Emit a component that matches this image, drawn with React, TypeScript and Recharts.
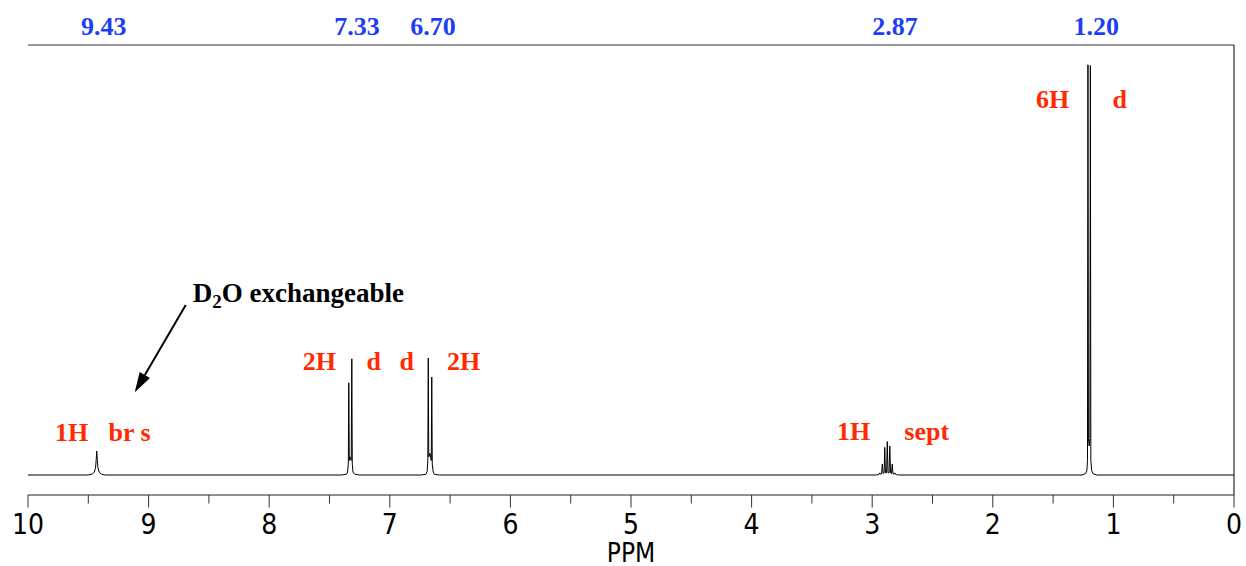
import React from 'react';
import {
  LineChart,
  Line,
  XAxis,
  YAxis,
  ReferenceLine,
  ReferenceDot,
} from 'recharts';

// spectrum trace (ppm, relative intensity)
const PPM = [
  10.0, 9.5, 9.47, 9.45, 9.44, 9.435, 9.43, 9.425, 9.42, 9.41, 9.39, 9.36,
  7.4, 7.36, 7.35, 7.344, 7.34, 7.336, 7.33, 7.32, 7.315, 7.311, 7.305, 7.29, 7.25,
  6.74, 6.7, 6.69, 6.685, 6.681, 6.677, 6.667, 6.656, 6.652, 6.648, 6.64, 6.63, 6.59,
  2.97, 2.945, 2.943, 2.937, 2.931, 2.922, 2.916, 2.91, 2.901, 2.896, 2.89, 2.881, 2.875,
  2.869, 2.86, 2.854, 2.848, 2.84, 2.834, 2.828, 2.819, 2.813, 2.807, 2.8, 2.78,
  1.26, 1.23, 1.22, 1.215, 1.211, 1.207, 1.201, 1.195, 1.191, 1.187, 1.18, 1.17, 1.14,
  0.0,
];
const INTENSITY = [
  0, 0, 0.01, 0.04, 0.1, 0.2, 0.33, 0.2, 0.1, 0.04, 0.01, 0,
  0, 0.01, 0.04, 0.15, 1.27, 0.2, 0.25, 0.2, 1.6, 0.15, 0.04, 0.01, 0,
  0, 0.01, 0.05, 0.2, 1.61, 0.25, 0.3, 0.2, 1.35, 0.15, 0.04, 0.01, 0,
  0, 0.005, 0.01, 0.03, 0.01, 0.02, 0.15, 0.02, 0.03, 0.38, 0.03, 0.03, 0.46,
  0.03, 0.03, 0.4, 0.03, 0.02, 0.15, 0.02, 0.01, 0.03, 0.01, 0.005, 0,
  0, 0.02, 0.06, 0.2, 5.65, 0.5, 0.4, 0.5, 5.64, 0.2, 0.06, 0.02, 0,
  0,
];

const PEAK_LABELS = [9.43, 7.33, 6.7, 2.87, 1.2];
const PPM_TICKS = [0, 0.5, 1, 1.5, 2, 2.5, 3, 3.5, 4, 4.5, 5, 5.5, 6, 6.5, 7, 7.5, 8, 8.5, 9, 9.5, 10];
const INTENSITY_TICKS = [0, 1, 2, 3, 4, 5];

// multiplicity notes: [text, ppm, intensity]
const NOTES: [string, number, number][] = [
  ['1H', 9.638, 0.59],
  ['br s', 9.157, 0.59],
  ['2H', 7.583, 1.58],
  ['d', 7.134, 1.58],
  ['d', 6.86, 1.58],
  ['2H', 6.387, 1.58],
  ['1H', 3.154, 0.61],
  ['sept', 2.548, 0.61],
  ['6H', 1.503, 5.18],
  ['d', 0.947, 5.18],
];

const data = PPM.map((ppm, i) => ({ ppm, y: INTENSITY[i] }));

const Y_MIN = -0.2755;
const Y_MAX = 5.923;

const SERIF = "'Liberation Serif', 'Times New Roman', serif";
const SANS = "'DejaVu Sans Condensed', 'DejaVu Sans', sans-serif";
const RED = '#ff2a00';
const BLUE = '#1c3ff5';

const BottomTick = ({ x, y, payload }: any) => {
  const major = Number.isInteger(payload.value);
  return (
    <g>
      <line x1={x} x2={x} y1={y} y2={y + (major ? 12.5 : 8.5)} stroke="#333" />
      {major && (
        <text x={x} y={y + 39} textAnchor="middle" fontSize={28} fontFamily={SANS} fill="#000">
          {payload.value}
        </text>
      )}
    </g>
  );
};

const LeftTick = ({ x, y, payload }: any) => (
  <line x1={x - (payload.value % 2 === 0 ? 13 : 8)} x2={x} y1={y} y2={y} stroke="#444" />
);

const AxisTitle = ({ viewBox }: any) => (
  <text x={viewBox.x + viewBox.width / 2} y={viewBox.y + 67} textAnchor="middle" fontSize={26} fontFamily={SANS} fill="#000">
    PPM
  </text>
);

const Arrow = (p: any) => {
  const { x1, y1, x2, y2 } = p;
  const a = Math.atan2(y2 - y1, x2 - x1);
  const len = 20;
  const w = 6;
  const bx = x2 - len * Math.cos(a);
  const by = y2 - len * Math.sin(a);
  const pts = [
    [x2, y2],
    [bx + w * Math.sin(a), by - w * Math.cos(a)],
    [bx - w * Math.sin(a), by + w * Math.cos(a)],
  ];
  return (
    <g>
      <line x1={x1} y1={y1} x2={bx} y2={by} stroke="#000" strokeWidth={2} />
      <polygon points={pts.map((q) => q.join(',')).join(' ')} fill="#000" />
    </g>
  );
};

export default function App() {
  return (
    <div style={{ position: 'absolute', left: 0, top: 0 }}>
      <LineChart width={1246} height={566} data={data} margin={{ top: 45, right: 12, bottom: 0, left: 28 }}>
        <XAxis
          dataKey="ppm"
          type="number"
          domain={[0, 10]}
          reversed
          allowDataOverflow
          ticks={PPM_TICKS}
          interval={0}
          height={71}
          tickSize={0}
          tickMargin={0}
          tickLine={false}
          axisLine={{ stroke: '#222' }}
          tick={BottomTick}
          label={{ position: 'insideBottom', content: AxisTitle }}
        />
        <YAxis
          type="number"
          domain={[Y_MIN, Y_MAX]}
          allowDataOverflow
          ticks={INTENSITY_TICKS}
          interval={0}
          width={0}
          tickSize={0}
          tickMargin={0}
          tickLine={false}
          axisLine={{ stroke: '#000' }}
          tick={LeftTick}
        />
        <ReferenceLine y={Y_MAX} stroke="#777" strokeWidth={1.5} />
        <ReferenceLine x={0} stroke="#000" />
        <Line
          type="linear"
          dataKey="y"
          stroke="#000"
          strokeWidth={1}
          dot={false}
          activeDot={false}
          isAnimationActive={false}
        />
        {PEAK_LABELS.map((v) => (
          <ReferenceDot
            key={v}
            x={v}
            y={Y_MAX}
            r={0}
            fill="none"
            stroke="none"
            ifOverflow="visible"
            label={{
              position: 'center',
              content: ({ viewBox }: any) => (
                <text x={viewBox.x + 7} y={viewBox.y - 10} textAnchor="middle" fontSize={26} fontWeight="bold" fontFamily={SERIF} fill={BLUE}>
                  {v.toFixed(2)}
                </text>
              ),
            }}
          />
        ))}
        {NOTES.map(([t, x, y], i) => (
          <ReferenceDot
            key={i}
            x={x}
            y={y}
            r={0}
            fill="none"
            stroke="none"
            label={{ value: t, position: 'center', fontSize: 26, fontWeight: 'bold', fontFamily: SERIF, fill: RED }}
          />
        ))}
        <ReferenceLine
          segment={[
            { x: 8.692, y: 2.34 },
            { x: 9.115, y: 1.14 },
          ]}
          shape={Arrow}
        />
        <ReferenceDot
          x={8.634}
          y={2.51}
          r={0}
          fill="none"
          stroke="none"
          label={{
            position: 'center',
            content: ({ viewBox }: any) => (
              <text x={viewBox.x} y={viewBox.y + 9} fontSize={27} fontWeight="bold" fontFamily={SERIF} fill="#000">
                D<tspan fontSize={19} dy={6}>2</tspan>
                <tspan dy={-6}>O exchangeable</tspan>
              </text>
            ),
          }}
        />
      </LineChart>
    </div>
  );
}
